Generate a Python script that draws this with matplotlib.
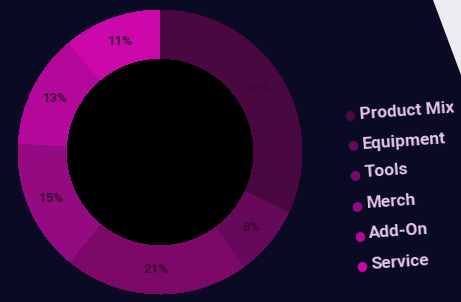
import numpy as np
import matplotlib
matplotlib.use('Agg')
import matplotlib.pyplot as plt
from matplotlib.patches import Polygon

labels = ['Product Mix', 'Equipment', 'Tools', 'Merch', 'Add-On', 'Service']
shares = [32, 8, 21, 15, 13, 11]
colors = ['#4a0840', '#66095a', '#7c0868', '#940a80', '#b4089a', '#cc08aa']

bg = '#0b0a24'
fig = plt.figure(figsize=(4.61, 3.02), dpi=100)
fig.patch.set_facecolor(bg)

# paper edge in the top right corner
fig.patches.append(Polygon([(433/461, 1), (1, 1), (1, 1 - 75/302)], closed=True,
                           transform=fig.transFigure, facecolor='#ecebef', edgecolor='none'))

cx, cy, r = 160, 152, 142
ax = fig.add_axes([(cx - r) / 461, (302 - cy - r) / 302, 2 * r / 461, 2 * r / 302])
ax.set_facecolor(bg)
wedges, texts, autotexts = ax.pie(
    shares, colors=colors, startangle=90, counterclock=False,
    autopct='%d%%', pctdistance=0.83,
    wedgeprops=dict(width=0.34, edgecolor='none', antialiased=False),
    textprops=dict(color='#3a0a36', fontsize=9.5, family='Roboto', fontweight='bold'))
ax.add_patch(plt.Circle((0, 0), 0.66, color='black', zorder=0))
ax.set_xlim(-1, 1)
ax.set_ylim(-1, 1)
ax.set_aspect('equal')
ax.axis('off')

# legend, drawn slightly skewed like the photographed original
for i, (lab, col) in enumerate(zip(labels, colors)):
    y = 1 - (111 + i * 30.2) / 302
    xd = (350 + i * 2.4) / 461
    fig.text(xd, y - 0.012, '\u25CF', color=col, fontsize=9, ha='center', va='center')
    fig.text(xd + 9 / 461, y, lab, color='#e6c6e6', fontsize=12.5, fontweight='bold',
             family='Roboto', ha='left', va='center', rotation=4)

fig.savefig('out.png', dpi=100, facecolor=bg)
